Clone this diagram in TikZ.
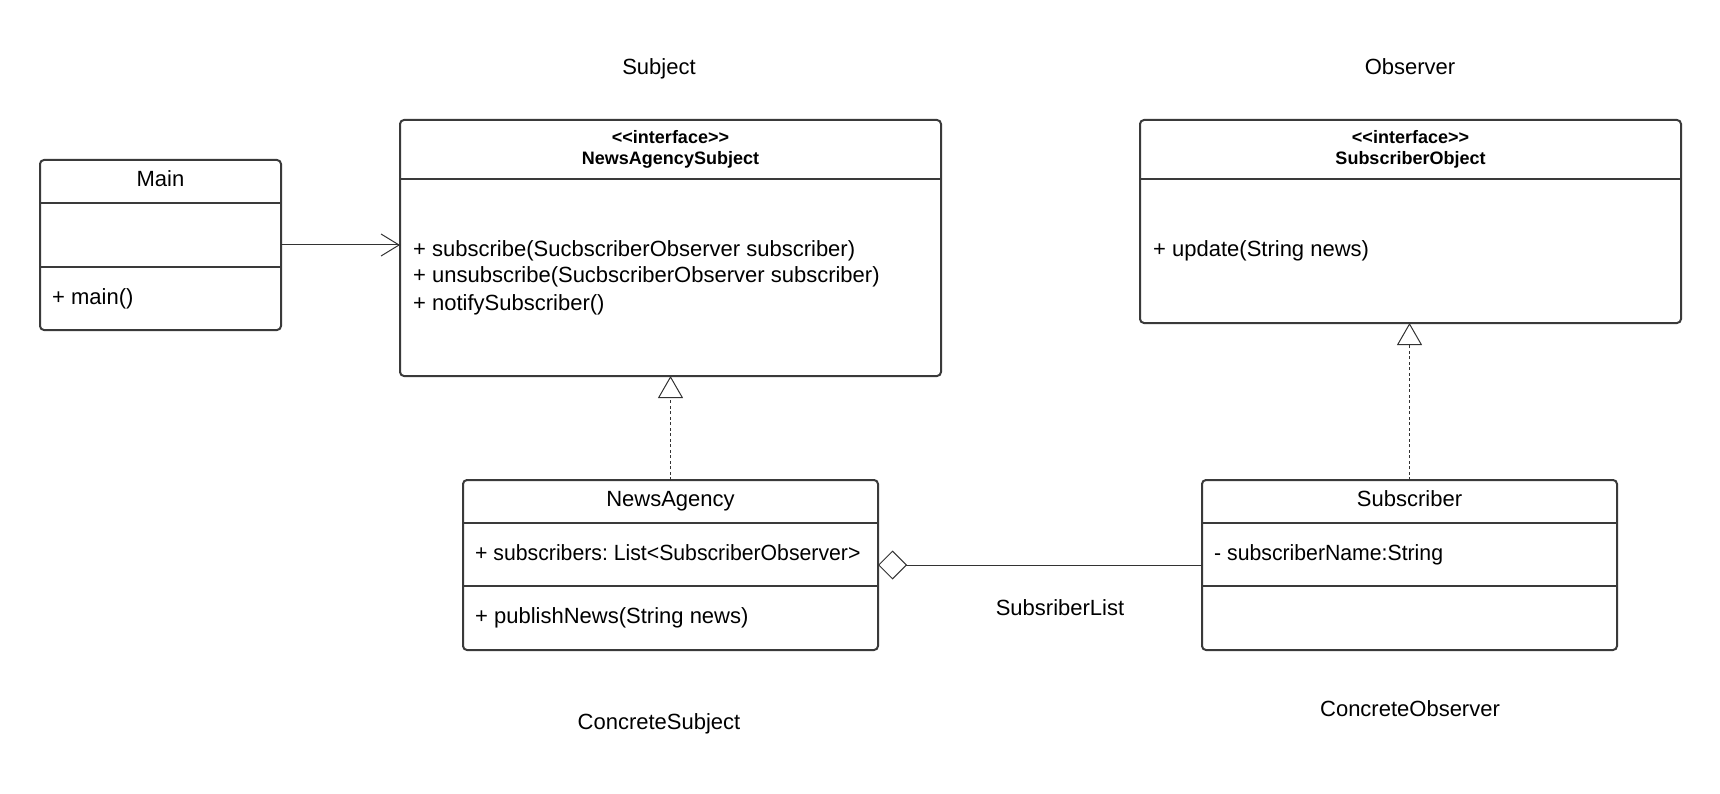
\documentclass[tikz,border=0pt]{standalone}
\usepackage{fontspec}
\usepackage{graphicx}
\setmainfont{Liberation Sans}
\usetikzlibrary{arrows.meta}
\frenchspacing
\definecolor{boxc}{HTML}{3A3A3A}
\definecolor{linec}{HTML}{333333}
\tikzset{
  umlbox/.style={draw=boxc, line width=2pt, rounded corners=4pt, rectangle, inner sep=0pt, outer sep=0pt},
  sepline/.style={draw=boxc, line width=2pt},
  txt/.style={font=\fontsize{22pt}{26pt}\selectfont, inner sep=0pt, text=black},
  hdr/.style={font=\fontsize{18pt}{21pt}\selectfont\bfseries, inner sep=0pt, text=black},
  assoc/.style={draw=linec, line width=1pt, -{Straight Barb[length=18pt,width=22pt]}},
  realize/.style={draw=linec, line width=1pt, dash pattern=on 3pt off 2.5pt, -{Triangle[open,length=22pt,width=25pt]}},
  aggr/.style={draw=linec, line width=1pt, {Diamond[open,length=29pt,width=29pt]}-},
}
\begin{document}
\begin{tikzpicture}[x=1pt,y=-1pt]
\useasboundingbox (0,0) rectangle (1720,794);
% boxes
\node[umlbox, minimum width=241pt, minimum height=170pt] (main) at (160.5,245) {};
\node[umlbox, minimum width=541pt, minimum height=256pt] (subj) at (670.5,248) {};
\node[umlbox, minimum width=541pt, minimum height=203pt] (obs) at (1410.5,221.5) {};
\node[umlbox, minimum width=415pt, minimum height=170pt] (na) at (670.5,565) {};
\node[umlbox, minimum width=415pt, minimum height=170pt] (sub) at (1409.5,565) {};
% separators
\draw[sepline] (main.west |- 0,203) -- (main.east |- 0,203);
\draw[sepline] (main.west |- 0,266.5) -- (main.east |- 0,266.5);
\draw[sepline] (subj.west |- 0,179) -- (subj.east |- 0,179);
\draw[sepline] (obs.west |- 0,179) -- (obs.east |- 0,179);
\draw[sepline] (na.west |- 0,522.5) -- (na.east |- 0,522.5);
\draw[sepline] (na.west |- 0,586) -- (na.east |- 0,586);
\draw[sepline] (sub.west |- 0,522.5) -- (sub.east |- 0,522.5);
\draw[sepline] (sub.west |- 0,586) -- (sub.east |- 0,586);
% texts
\node[txt, anchor=base] (tmain) at (160.5,187) {Main};
\node[txt, anchor=base west] (tmainop) at (52,304) {+ main()};
\node[hdr, anchor=base] (ts1) at (670.5,143.5) {<\kern0pt<interface>\kern0pt>};
\node[hdr, anchor=base] (ts2) at (670.5,164.5) {NewsAgencySubject};
\node[txt, anchor=base west] (tsa) at (413,256) {+ subscribe(SucbscriberObserver subscriber)};
\node[txt, anchor=base west] (tsb) at (413,283) {+ unsubscribe(SucbscriberObserver subscriber)};
\node[txt, anchor=base west] (tsc) at (413,310) {+ notifySubscriber()};
\node[hdr, anchor=base] (to1) at (1410.5,143.5) {<\kern0pt<interface>\kern0pt>};
\node[hdr, anchor=base] (to2) at (1410.5,164.5) {SubscriberObject};
\node[txt, anchor=base west] (toa) at (1153,256) {+ update(String news)};
\node[txt, anchor=base] (tna) at (670.5,506) {NewsAgency};
\node[txt, anchor=base west] (tnaa) at (475,560) {\scalebox{0.965}[1]{+ subscribers: List<SubscriberObserver>}};
\node[txt, anchor=base west] (tnab) at (475,623) {+ publishNews(String news)};
\node[txt, anchor=base] (tsub) at (1409.5,506) {Subscriber};
\node[txt, anchor=base west] (tsuba) at (1214,560) {\scalebox{0.965}[1]{- subscriberName:String}};
\node[txt, anchor=base] (lbl) at (1060,615) {SubsriberList};
\node[txt, anchor=base] (lsubj) at (659,75) {Subject};
\node[txt, anchor=base] (lobs) at (1410,75) {Observer};
\node[txt, anchor=base] (lcsubj) at (659,729) {ConcreteSubject};
\node[txt, anchor=base] (lcobs) at (1410,716) {ConcreteObserver};
% connectors
\draw[assoc] (main.east) -- (main.east -| subj.west);
\draw[realize] (na.north) -- (subj.south);
\draw[realize] (sub.north) -- (sub.north |- obs.south);
\draw[aggr] (na.east) -- (sub.west);
\end{tikzpicture}
\end{document}
